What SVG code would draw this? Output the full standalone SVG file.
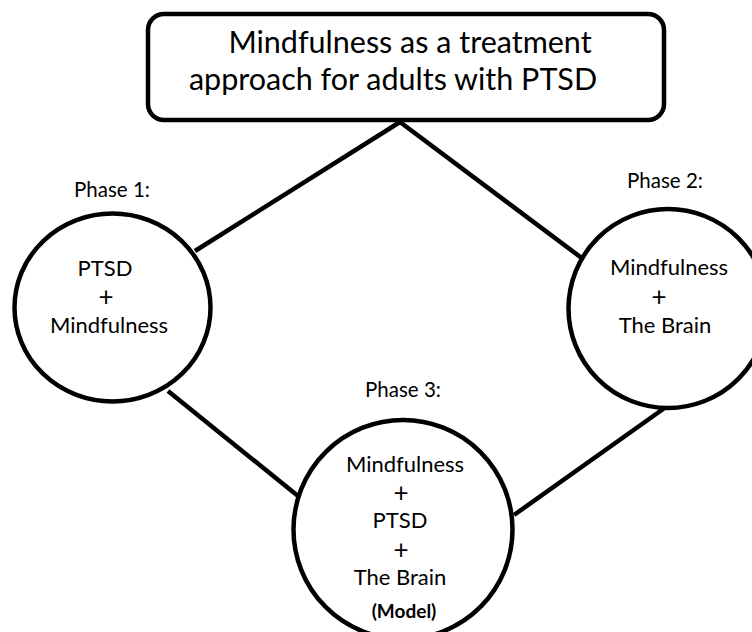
<svg xmlns="http://www.w3.org/2000/svg" width="752" height="632" viewBox="0 0 752 632">
<style>
.shape{fill:#fff;stroke:#000;stroke-width:4.5}
.conn{stroke:#000;stroke-width:4.5;fill:none}
text{font-family:Lato,"Open Sans","Noto Sans",sans-serif;fill:#000;text-anchor:middle}
.title{font-size:30.5px}
.lbl{font-size:20.5px}
.body{font-size:22px}
.plus{font-size:26px}
.model{font-size:19px;font-weight:bold}
</style>
<rect width="752" height="632" fill="#fff"/>
<g id="connectors">
<line class="conn" x1="400" y1="122" x2="195" y2="251"/>
<line class="conn" x1="400" y1="122" x2="583" y2="259"/>
<line class="conn" x1="168" y1="391" x2="298" y2="496"/>
<line class="conn" x1="666" y1="407" x2="514" y2="515"/>
</g>
<g id="title">
<rect class="shape" x="148" y="14" width="516" height="106" rx="16"/>
<text class="title" x="410" y="53">Mindfulness as a treatment</text>
<text class="title" x="393" y="90">approach for adults with PTSD</text>
</g>
<g id="phase1">
<text class="lbl" x="112" y="197">Phase 1:</text>
<ellipse class="shape" cx="112.5" cy="307.5" rx="98" ry="94"/>
<text class="body" x="105" y="276">PTSD</text>
<text class="plus" x="106" y="306">+</text>
<text class="body" x="109" y="333">Mindfulness</text>
</g>
<g id="phase2">
<text class="lbl" x="665" y="188">Phase 2:</text>
<circle class="shape" cx="668" cy="308.5" r="99.5"/>
<text class="body" x="669" y="275">Mindfulness</text>
<text class="plus" x="659" y="306">+</text>
<text class="body" x="665" y="333">The Brain</text>
</g>
<g id="phase3">
<text class="lbl" x="403" y="397">Phase 3:</text>
<circle class="shape" cx="403" cy="529.5" r="109.5"/>
<text class="body" x="405" y="472">Mindfulness</text>
<text class="plus" x="401" y="502">+</text>
<text class="body" x="400" y="528">PTSD</text>
<text class="plus" x="401" y="559">+</text>
<text class="body" x="400" y="585">The Brain</text>
<text class="model" x="404" y="618">(Model)</text>
</g>
</svg>
